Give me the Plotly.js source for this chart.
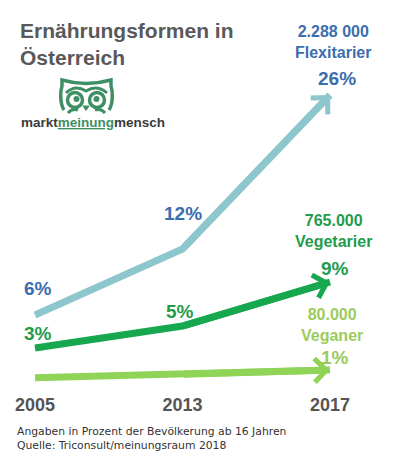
<!DOCTYPE html>
<html><head><meta charset="utf-8">
<script src="https://cdn.plot.ly/plotly-3.0.1.min.js"></script>
<style>html,body{margin:0;padding:0;background:#fff}</style>
</head><body><div id="chart" style="width:396px;height:464px"></div>
<script>
// ---- data ----
const years = ['2005', '2013', '2017'];
const flexitarier = [6, 12, 26];
const vegetarier = [3, 5, 9];
const veganer = [0.3, 0.6, 1];
const groupNames = ['Flexitarier', 'Vegetarier', 'Veganer'];
const groupCounts = ['2.288 000', '765.000', '80.000'];
const footnote = ['Angaben in Prozent der Bevölkerung ab 16 Jahren', 'Quelle: Triconsult/meinungsraum 2018'];

// ---- layout helpers ----
const W = 396, H = 464, MB = 72, PH = H - MB;
const px = x => x / W;
const py = y => 1 - y / PH;
const FONT = 'Liberation Sans, Arial, sans-serif';
const xIdx = years.map((_, i) => i);

const series = [
  {vals: flexitarier, line: '#8DC6CC', text: '#3B6DAF', labShift: [[3, 27], [0, 36], [7, 17]], head: [333, 42]},
  {vals: vegetarier, line: '#17A84F', text: '#1F9C4B', labShift: [[3, 15], [-3, 15], [5, 14]], head: [333, 231]},
  {vals: veganer, line: '#8FD456', text: '#9BCB5C', labShift: [null, null, [5, 13]], head: [332, 325]}
];

const traces = series.map(s => ({
  x: xIdx, y: s.vals, type: 'scatter', mode: 'lines',
  line: {color: s.line, width: 7}, hoverinfo: 'skip', showlegend: false
}));

const paperText = (x, y, text, font, extra) => Object.assign({
  x: px(x), y: py(y), xref: 'paper', yref: 'paper', showarrow: false,
  xanchor: 'center', yanchor: 'middle', text: text, font: font
}, extra || {});

const annotations = [];
series.forEach((s, k) => {
  // arrow head on the last segment
  annotations.push({
    x: xIdx[2], y: s.vals[2], ax: xIdx[1], ay: s.vals[1],
    xref: 'x', yref: 'y', axref: 'x', ayref: 'y', text: '',
    showarrow: true, arrowhead: 4, arrowsize: 0.65, arrowwidth: 7, arrowcolor: s.line
  });
  // value labels
  s.vals.forEach((v, i) => {
    if (!s.labShift[i]) return;
    annotations.push({
      x: xIdx[i], y: v, xref: 'x', yref: 'y', text: '<b>' + v + '%</b>', showarrow: false,
      xanchor: 'center', yanchor: 'middle',
      xshift: s.labShift[i][0], yshift: s.labShift[i][1],
      font: {family: FONT, size: 19, color: s.text}
    });
  });
  // group header
  annotations.push(paperText(s.head[0], s.head[1],
    '<b>' + groupCounts[k] + '<br>' + groupNames[k] + '</b>',
    {family: FONT, size: 16, color: s.text}));
});

// title
annotations.push(paperText(18, 44, '<b>Ernährungsformen in<br>Österreich</b>',
  {family: FONT, size: 21, color: '#595959'}, {xanchor: 'left', align: 'left'}));
// logo text
annotations.push(paperText(92.5, 122,
  '<b>markt<span style="color:#3E8E63"><u>meinung</u></span>mensch</b>',
  {family: FONT, size: 13.5, color: '#3a3a3a'}));
// footnote
annotations.push(paperText(15, 438, footnote.join('<br>'),
  {family: 'DejaVu Sans, sans-serif', size: 10.8, color: '#333'}, {xanchor: 'left', align: 'left'}));

// owl logo (decoration)
const G = '#3F8F65';
const path = pts => pts.map(p => typeof p === 'string' ? p : px(p[0]) + ',' + py(p[1])).join(' ');
const circ = (cx, cy, r, fill) => ({
  type: 'circle', xref: 'paper', yref: 'paper',
  x0: px(cx - r), x1: px(cx + r), y0: py(cy + r), y1: py(cy - r),
  line: {color: G, width: fill ? 0 : 3.5}, fillcolor: fill ? G : 'rgba(0,0,0,0)'
});
const stroke = (pts, w) => ({type: 'path', xref: 'paper', yref: 'paper', line: {color: G, width: w || 3.5}, path: path(pts)});
const shapes = [
  stroke(['M', [64, 110], 'C', [60, 104], [60, 92], [62, 86], 'L', [62, 80],
          'Q', [86, 87], [111, 80], 'L', [111, 86], 'C', [113, 92], [113, 104], [109, 110]]),
  stroke(['M', [66, 93], 'Q', [75, 84], [86, 91], 'Q', [97, 84], [107, 93]], 3),
  circ(75, 100, 7.5, false), circ(97, 100, 7.5, false),
  circ(76.5, 99, 3, true), circ(96.5, 99, 3, true),
  {type: 'path', xref: 'paper', yref: 'paper', line: {color: G, width: 1}, fillcolor: G,
   path: path(['M', [83, 106], 'L', [89, 106], 'L', [86, 110.5], 'Z'])},
  stroke(['M', [68, 113], 'Q', [72, 108], [78, 110]], 3),
  stroke(['M', [105, 113], 'Q', [101, 108], [95, 110]], 3)
];

const layout = {
  width: W, height: H,
  margin: {l: 0, r: 0, t: 0, b: MB},
  paper_bgcolor: '#fff', plot_bgcolor: '#fff',
  xaxis: {
    range: [-35 / 147.5, (W - 35) / 147.5], tickvals: xIdx, ticktext: years,
    showgrid: false, zeroline: false, showline: false, ticks: '',
    tickfont: {family: FONT, size: 18, color: '#555', weight: 700}, fixedrange: true
  },
  yaxis: {
    range: [-1, 381 / 11], visible: false, showgrid: false, zeroline: false, fixedrange: true
  },
  annotations: annotations,
  shapes: shapes,
  showlegend: false
};

Plotly.newPlot('chart', traces, layout, {displayModeBar: false, staticPlot: true});
</script>
</body></html>
